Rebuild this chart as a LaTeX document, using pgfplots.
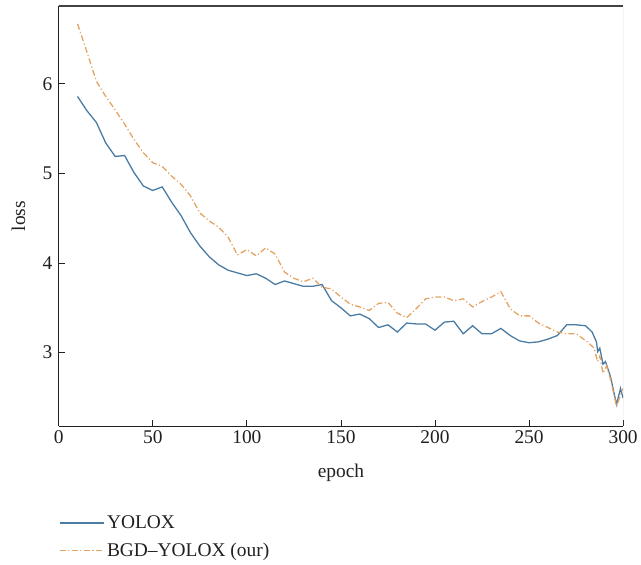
\documentclass[border=0pt]{standalone}
\usepackage{pgfplots}
\pgfplotsset{compat=1.18}
\usepackage{fontspec}
\setmainfont{Liberation Serif}
\definecolor{txt}{HTML}{231F20}
\definecolor{yblue}{HTML}{4A7BA3}
\definecolor{borange}{HTML}{E3A463}
\begin{document}
\begin{tikzpicture}
\begin{axis}[
  scale only axis,
  width=567pt, height=422pt,
  xmin=0, xmax=300, ymin=2.18, ymax=6.87,
  xtick={0,50,100,150,200,250,300},
  ytick={3,4,5,6},
  axis x line*=bottom, axis y line*=left,
  axis line style={txt, line width=0.9pt, -},
  tick align=inside,
  major tick length=6pt,
  tick style={txt, line width=0.8pt},
  /pgf/number format/assume math mode=true,
  font=\fontsize{19.5}{23}\selectfont,
  ticklabel style={text=txt},
  xticklabel style={yshift=-1pt},
  yticklabel style={xshift=-3pt},
  xlabel={epoch}, ylabel={loss},
  xlabel style={at={(axis description cs:0.5,0)}, anchor=center, yshift=-47pt, text=txt},
  ylabel style={at={(axis description cs:0,0.5)}, anchor=center, yshift=40.5pt, text=txt},
  legend style={at={(axis description cs:0,0)}, anchor=north west, yshift=-88pt,
    draw=none, fill=none, inner sep=0pt, row sep=9pt, text=txt,
    font=\fontsize{19.5}{23}\selectfont},
  legend cell align=left,
  legend image code/.code={\draw[#1, line width=1pt] plot coordinates {(0pt,0pt) (35pt,0pt)}; \path (0pt,0pt) -- (45pt,0pt);},
]
\addplot[yblue, line width=1.3pt] coordinates {
(10,5.86) (15,5.70) (20,5.57) (25,5.34) (30,5.19) (35,5.20) (40,5.01) (45,4.86)
(50,4.81) (55,4.85) (60,4.68) (65,4.53) (70,4.34) (75,4.19) (80,4.07) (85,3.98)
(90,3.92) (95,3.89) (100,3.86) (105,3.88) (110,3.83) (115,3.76) (120,3.80) (125,3.77)
(130,3.74) (135,3.74) (140,3.76) (145,3.58) (150,3.50) (155,3.41) (160,3.43) (165,3.38)
(170,3.28) (175,3.31) (180,3.23) (185,3.33) (190,3.32) (195,3.32) (200,3.25) (205,3.34)
(210,3.35) (215,3.21) (220,3.30) (225,3.21) (230,3.21) (235,3.27) (240,3.19) (245,3.13)
(250,3.11) (255,3.12) (260,3.15) (265,3.19) (270,3.31) (275,3.31) (280,3.30) (283.5,3.23)
(285.8,3.12) (286.5,3.01) (287.6,3.05) (289.3,2.87) (290.6,2.90) (293.3,2.73) (296.5,2.42)
(298.6,2.60) (300,2.49)
};
\addlegendentry{YOLOX}
\addplot[borange, line width=1.3pt, dash pattern=on 6pt off 2.5pt on 1.2pt off 2.5pt] coordinates {
(10,6.67) (14,6.42) (20,6.03) (25,5.86) (30,5.71) (35,5.55) (40,5.38) (45,5.23)
(50,5.12) (55,5.08) (60,4.97) (65,4.88) (70,4.75) (75,4.56) (80,4.47) (85,4.40)
(90,4.29) (95,4.09) (100,4.15) (105,4.08) (110,4.17) (115,4.10) (120,3.90) (125,3.83)
(130,3.79) (135,3.83) (140,3.73) (145,3.71) (150,3.62) (155,3.54) (160,3.51) (165,3.47)
(170,3.55) (175,3.56) (180,3.44) (185,3.39) (190,3.49) (195,3.60) (200,3.62) (205,3.62)
(210,3.58) (215,3.60) (220,3.51) (225,3.57) (230,3.62) (235,3.68) (240,3.49) (245,3.41)
(250,3.41) (255,3.33) (260,3.28) (265,3.23) (270,3.21) (275,3.21) (281,3.12) (284.6,3.05)
(286.4,2.90) (287.6,2.96) (289.3,2.77) (291.2,2.85) (293.3,2.70) (296.5,2.40) (299,2.55)
(300,2.60)
};
\addlegendentry{BGD--YOLOX (our)}
\draw[txt!85, line width=1.2pt] (rel axis cs:0,1) -- (rel axis cs:1,1);
\draw[gray!70, line width=0.8pt] (rel axis cs:1,0) -- (rel axis cs:1,1);
\end{axis}
\path (current axis.south west) ++(-59pt,-139pt) rectangle ++(641pt,567pt);
\end{tikzpicture}
\end{document}
